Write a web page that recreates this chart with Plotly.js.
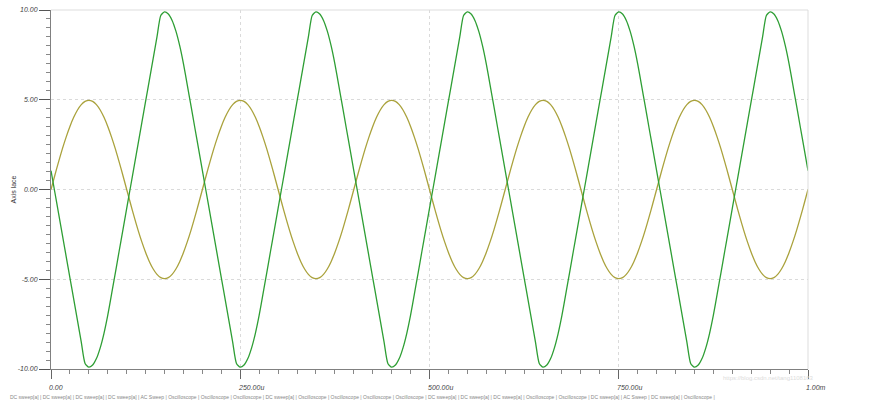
<!DOCTYPE html>
<html>
<head>
<meta charset="utf-8">
<script src="https://cdn.plot.ly/plotly-3.0.1.min.js"></script>
<style>html,body{margin:0;padding:0;background:#fff;}#chart{width:886px;height:418px;}</style>
</head>
<body>
<div id="chart"></div>
<script>
// sample spacing of the simulated traces (seconds)
const SAMPLE_T0 = 0;
const SAMPLE_DT = 5e-6;

// inverted, amplified trace (green), every 5 us
const traceGreen = [
 1.05,-0.14,-1.33,-2.53,-3.72,-4.92,-6.11,-7.30,-8.50,-9.69,-9.90,-9.78,-9.42,-8.82,-8.01,-7.00,-5.83,-4.64,-3.44,-2.25,
 -1.05,0.14,1.33,2.53,3.72,4.92,6.11,7.30,8.50,9.69,9.90,9.78,9.42,8.82,8.01,7.00,5.83,4.64,3.44,2.25,
 1.05,-0.14,-1.33,-2.53,-3.72,-4.92,-6.11,-7.30,-8.50,-9.69,-9.90,-9.78,-9.42,-8.82,-8.01,-7.00,-5.83,-4.64,-3.44,-2.25,
 -1.05,0.14,1.33,2.53,3.72,4.92,6.11,7.30,8.50,9.69,9.90,9.78,9.42,8.82,8.01,7.00,5.83,4.64,3.44,2.25,
 1.05,-0.14,-1.33,-2.53,-3.72,-4.92,-6.11,-7.30,-8.50,-9.69,-9.90,-9.78,-9.42,-8.82,-8.01,-7.00,-5.83,-4.64,-3.44,-2.25,
 -1.05,0.14,1.33,2.53,3.72,4.92,6.11,7.30,8.50,9.69,9.90,9.78,9.42,8.82,8.01,7.00,5.83,4.64,3.44,2.25,
 1.05,-0.14,-1.33,-2.53,-3.72,-4.92,-6.11,-7.30,-8.50,-9.69,-9.90,-9.78,-9.42,-8.82,-8.01,-7.00,-5.83,-4.64,-3.44,-2.25,
 -1.05,0.14,1.33,2.53,3.72,4.92,6.11,7.30,8.50,9.69,9.90,9.78,9.42,8.82,8.01,7.00,5.83,4.64,3.44,2.25,
 1.05,-0.14,-1.33,-2.53,-3.72,-4.92,-6.11,-7.30,-8.50,-9.69,-9.90,-9.78,-9.42,-8.82,-8.01,-7.00,-5.83,-4.64,-3.44,-2.25,
 -1.05,0.14,1.33,2.53,3.72,4.92,6.11,7.30,8.50,9.69,9.90,9.78,9.42,8.82,8.01,7.00,5.83,4.64,3.44,2.25,
 1.05
];

// input trace (olive), every 5 us
const traceOlive = [
 0,0.78,1.54,2.26,2.92,3.51,4.02,4.43,4.73,4.91,4.97,4.91,4.73,4.43,4.02,3.51,2.92,2.26,1.54,0.78,
 0,-0.78,-1.54,-2.26,-2.92,-3.51,-4.02,-4.43,-4.73,-4.91,-4.97,-4.91,-4.73,-4.43,-4.02,-3.51,-2.92,-2.26,-1.54,-0.78,
 0,0.78,1.54,2.26,2.92,3.51,4.02,4.43,4.73,4.91,4.97,4.91,4.73,4.43,4.02,3.51,2.92,2.26,1.54,0.78,
 0,-0.78,-1.54,-2.26,-2.92,-3.51,-4.02,-4.43,-4.73,-4.91,-4.97,-4.91,-4.73,-4.43,-4.02,-3.51,-2.92,-2.26,-1.54,-0.78,
 0,0.78,1.54,2.26,2.92,3.51,4.02,4.43,4.73,4.91,4.97,4.91,4.73,4.43,4.02,3.51,2.92,2.26,1.54,0.78,
 0,-0.78,-1.54,-2.26,-2.92,-3.51,-4.02,-4.43,-4.73,-4.91,-4.97,-4.91,-4.73,-4.43,-4.02,-3.51,-2.92,-2.26,-1.54,-0.78,
 0,0.78,1.54,2.26,2.92,3.51,4.02,4.43,4.73,4.91,4.97,4.91,4.73,4.43,4.02,3.51,2.92,2.26,1.54,0.78,
 0,-0.78,-1.54,-2.26,-2.92,-3.51,-4.02,-4.43,-4.73,-4.91,-4.97,-4.91,-4.73,-4.43,-4.02,-3.51,-2.92,-2.26,-1.54,-0.78,
 0,0.78,1.54,2.26,2.92,3.51,4.02,4.43,4.73,4.91,4.97,4.91,4.73,4.43,4.02,3.51,2.92,2.26,1.54,0.78,
 0,-0.78,-1.54,-2.26,-2.92,-3.51,-4.02,-4.43,-4.73,-4.91,-4.97,-4.91,-4.73,-4.43,-4.02,-3.51,-2.92,-2.26,-1.54,-0.78,
 0
];

const xTickVals = [0, 250e-6, 500e-6, 750e-6, 1e-3];
const xTickText = ['0.00', '250.00u', '500.00u', '750.00u', '1.00m'];
const yTickVals = [-10, -5, 0, 5, 10];
const yTickText = ['-10.00', '-5.00', '0.00', '5.00', '10.00'];
const yAxisLabel = 'Axis lace';
const tabStripText = 'DC sweep[a] | DC sweep[a] | DC sweep[a] | DC sweep[a] | AC Sweep | Oscilloscope | Oscilloscope | Oscilloscope | DC sweep[a] | Oscilloscope | Oscilloscope | Oscilloscope | Oscilloscope | DC sweep[a] | DC sweep[a] | DC sweep[a] | Oscilloscope | Oscilloscope | DC sweep[a] | AC Sweep | DC sweep[a] | Oscilloscope |';
const watermarkText = 'https://blog.csdn.net/tang1108163';

const FONT = 'Liberation Sans, Arial, sans-serif';

const traces = [
  {
    type: 'scatter', mode: 'lines', name: 'olive',
    x0: SAMPLE_T0, dx: SAMPLE_DT, y: traceOlive,
    line: {color: '#aaa23c', width: 1.3, shape: 'spline', smoothing: 0.6},
    hoverinfo: 'skip'
  },
  {
    type: 'scatter', mode: 'lines', name: 'green',
    x0: SAMPLE_T0, dx: SAMPLE_DT, y: traceGreen,
    line: {color: '#2e9e34', width: 1.3, shape: 'spline', smoothing: 0.6},
    hoverinfo: 'skip'
  }
];

const annotations = xTickVals.map((v, i) => ({
  x: v, xref: 'x', y: 0, yref: 'paper', yshift: -18, xshift: -4,
  xanchor: 'left', yanchor: 'middle', showarrow: false,
  text: xTickText[i],
  font: {family: FONT, size: 7, color: '#444', style: 'italic'}
}));
annotations.push({
  x: 0, xref: 'paper', y: 0.5, yref: 'paper', xshift: -38,
  xanchor: 'center', yanchor: 'middle', showarrow: false, textangle: -90,
  text: yAxisLabel, font: {family: FONT, size: 7, color: '#333'}
});
annotations.push({
  x: 0, xref: 'paper', y: 0, yref: 'paper', xshift: -43, yshift: -28,
  xanchor: 'left', yanchor: 'middle', showarrow: false,
  text: tabStripText, font: {family: FONT, size: 5, color: '#888'}
});
annotations.push({
  x: 1, xref: 'paper', y: 0, yref: 'paper', xshift: 8, yshift: -9,
  xanchor: 'right', yanchor: 'middle', showarrow: false,
  text: watermarkText, font: {family: FONT, size: 6, color: '#dcdcdc'}
});

const layout = {
  width: 886, height: 418,
  margin: {l: 51, r: 78, t: 10, b: 49, pad: 0},
  paper_bgcolor: '#ffffff', plot_bgcolor: '#ffffff',
  showlegend: false,
  xaxis: {
    range: [0, 1e-3], fixedrange: true,
    showline: true, linecolor: '#808080', linewidth: 1,
    ticks: 'outside', ticklen: 9, tickcolor: '#666', tickwidth: 1,
    tickmode: 'array', tickvals: xTickVals, showticklabels: false,
    showgrid: true, gridcolor: '#dadada', griddash: 'dot', gridwidth: 1,
    zeroline: false,
    minor: {ticks: 'outside', ticklen: 4, tickcolor: '#888', dtick: 25e-6, tick0: 0, showgrid: false}
  },
  yaxis: {
    range: [-10, 10], fixedrange: true,
    showline: true, linecolor: '#808080', linewidth: 1,
    ticks: 'outside', ticklen: 11, tickcolor: '#555', tickwidth: 1,
    tickmode: 'array', tickvals: yTickVals, ticktext: yTickText,
    tickfont: {family: FONT, size: 7, color: '#444', style: 'italic'},
    showgrid: true, gridcolor: '#dadada', griddash: 'dot', gridwidth: 1,
    zeroline: false,
    minor: {ticks: 'outside', ticklen: 4, tickcolor: '#888', dtick: 0.5, tick0: 0, showgrid: false}
  },
  shapes: [
    {type: 'line', xref: 'paper', yref: 'paper', x0: 0, x1: 1, y0: 1, y1: 1, line: {color: '#dddddd', width: 1}},
    {type: 'line', xref: 'paper', yref: 'paper', x0: 1, x1: 1, y0: 0, y1: 1, line: {color: '#dddddd', width: 1}}
  ],
  annotations: annotations
};

Plotly.newPlot('chart', traces, layout, {displayModeBar: false, staticPlot: true});
</script>
</body>
</html>
